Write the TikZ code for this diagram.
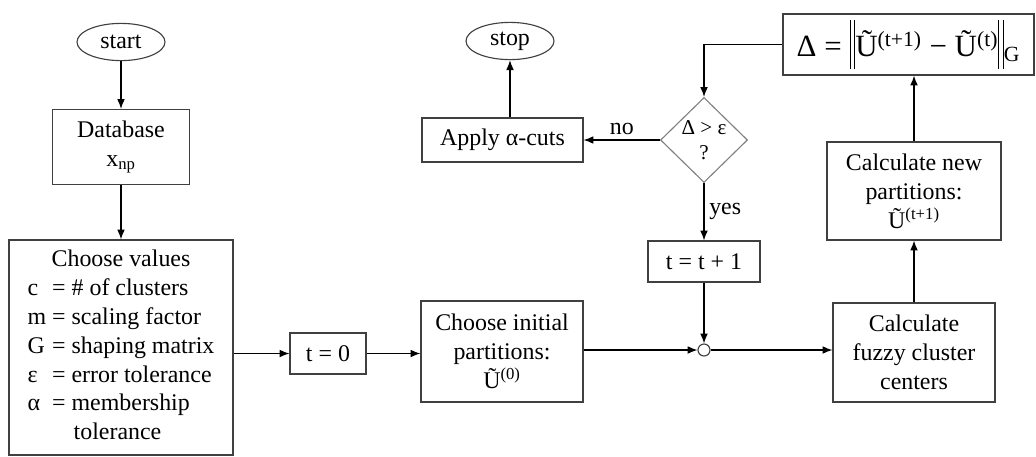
\documentclass[tikz,border=0pt]{standalone}
\usepackage{fontspec}
\setmainfont{Liberation Serif}
\usetikzlibrary{arrows.meta, shapes.geometric}
\newcommand{\normbar}{\rule[-0.4em]{0.8pt}{1.6em}\hspace{2.5pt}\rule[-0.4em]{0.8pt}{1.6em}}

\begin{document}
\begin{tikzpicture}[x=0.025cm,y=-0.025cm,>={Latex[length=7pt,width=5.5pt]},line width=0.8pt,
  font=\fontsize{17}{20.5}\selectfont,
  box/.style={rectangle, draw=black!75, align=center, inner sep=0pt},
  term/.style={ellipse, draw=black!75, minimum width=2.2cm, minimum height=0.93cm, inner sep=0pt}]
  \useasboundingbox (0,0) rectangle (1036,456);
  % Define nodes
  \node[term] (start) at (121,42) {start};
  \node[box, minimum width=3.425cm, minimum height=1.875cm] (db) at (121,147) {Database\\x\textsubscript{np}};
  \node[box, minimum width=5.6cm, minimum height=5.375cm] (vals) at (121,347.5) {%
    \begin{tabular}{@{}l@{ }l@{}}
      \multicolumn{2}{@{}c@{}}{Choose values}\\
      c & = \# of clusters\\
      m & = scaling factor\\
      G & = shaping matrix\\
      ε & = error tolerance\\
      α & = membership\\
        & \hspace{0.9em}tolerance
    \end{tabular}};
  \node[box, minimum width=1.9cm, minimum height=1.025cm] (t0) at (328,353.5) {t = 0};
  \node[box, minimum width=4.05cm, minimum height=2.525cm] (init) at (502,351.5) {Choose initial\\partitions:\\Ũ\textsuperscript{(0)}};
  \node[circle, draw=black!75, minimum size=0.3cm, inner sep=0pt] (join) at (704,350) {};
  \node[box, minimum width=4.05cm, minimum height=2.475cm] (fuzzy) at (914,352.5) {Calculate\\fuzzy cluster\\centers};
  \node[box, minimum width=4.35cm, minimum height=2.45cm] (newp) at (914,191) {Calculate new\\partitions:\\Ũ\textsuperscript{(t+1)}};
  \node[box, minimum width=6.275cm, minimum height=1.525cm, font=\fontsize{22}{26}\selectfont] (delta) at (908.5,44.5)
    {Δ = \normbar Ũ\textsuperscript{(t+1)} − Ũ\textsuperscript{(t)}\normbar\textsubscript{G}};
  \node[diamond, draw=black!50, minimum width=2.175cm, minimum height=2.125cm, inner sep=0pt, align=center,
    font=\fontsize{15}{18}\selectfont] (dec) at (704,140) {Δ > ε\\?};
  \node[box, minimum width=4.025cm, minimum height=1.1cm] (apply) at (502.5,140) {Apply α-cuts};
  \node[term] (stop) at (510,41) {stop};
  \node[box, minimum width=2.8cm, minimum height=1.025cm] (inc) at (704,261.5) {t = t + 1};

  % Draw edges with labels
  \draw[->] (start) -- (db);
  \draw[->] (db) -- (vals);
  \draw[->] (vals.east |- t0.west) -- (t0);
  \draw[->] (t0.east) -- (t0.east -| init.west);
  \draw[->] (init.east |- join) -- (join);
  \draw[->] (join) -- (join -| fuzzy.west);
  \draw[->] (fuzzy) -- (newp);
  \draw[->] (newp) -- (newp |- delta.south);
  \draw[->] (delta) -| (dec);
  \draw[->] (dec) -- node[above] {no} (apply);
  \draw[->] (apply.north -| stop) -- (stop);
  \draw[->] (dec) -- node[right] {yes} (inc);
  \draw[->] (inc) -- (join);
\end{tikzpicture}
\end{document}
